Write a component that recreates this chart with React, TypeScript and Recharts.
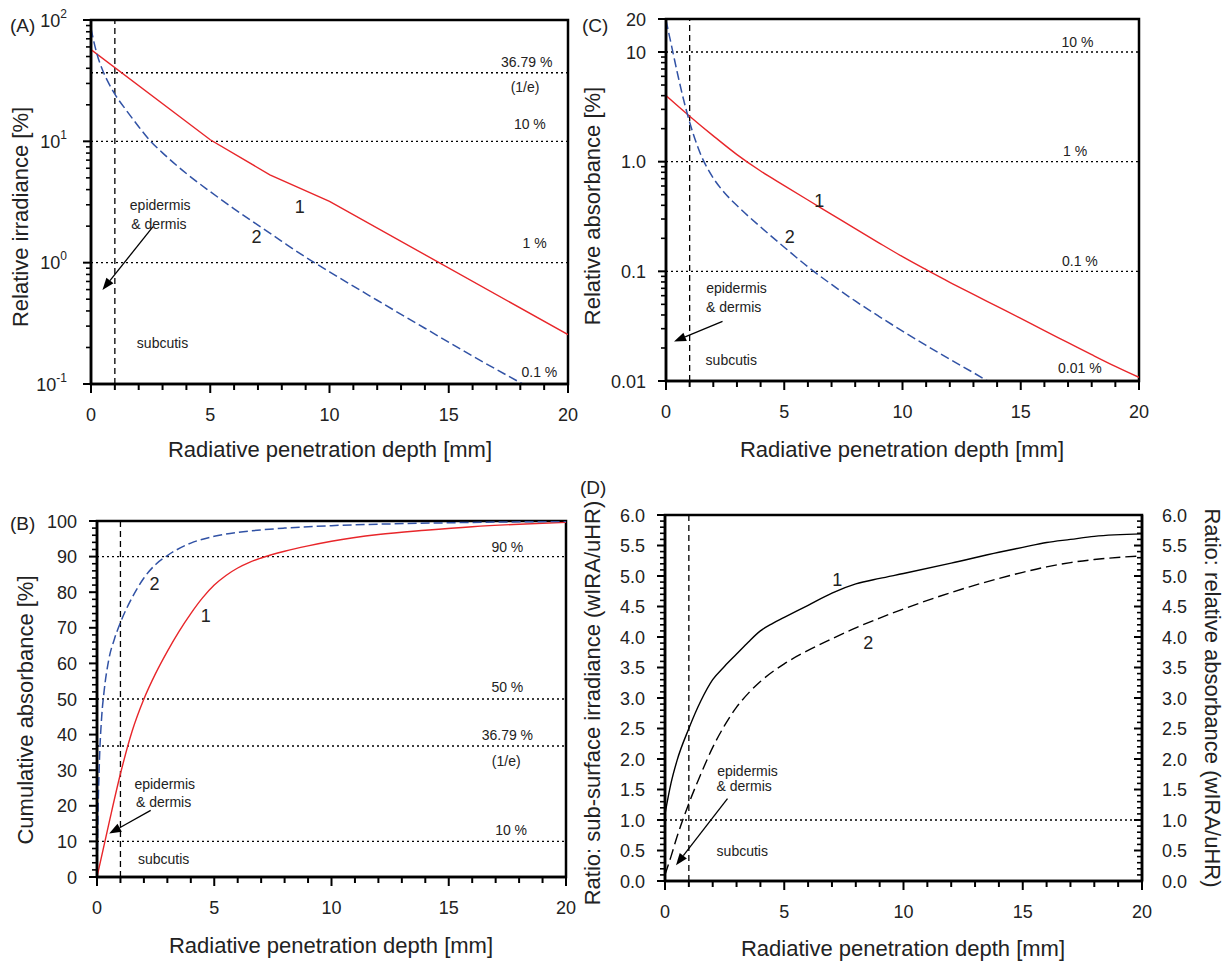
import React from 'react';
import { LineChart, Line, XAxis, YAxis, ReferenceLine, ReferenceDot, ReferenceArea } from 'recharts';

const FONT = '"Liberation Sans", Arial, Helvetica, sans-serif';
const RED = '#e8262a';
const BLUE = '#3152a5';
const INK = '#222';

// shared x axis (radiative penetration depth, mm)
const DEPTH_TICKS = [0, 1, 2, 3, 4, 5, 6, 7, 8, 9, 10, 11, 12, 13, 14, 15, 16, 17, 18, 19, 20];
const DEPTH_LABELS = [0, 5, 10, 15, 20];

// Panel A: relative irradiance [%] (log)
const A_RED_DEPTH = [0, 5, 7.5, 10, 20];
const A_RED_VAL = [57, 10.3, 5.3, 3.2, 0.255];
const A_BLUE_DEPTH = [0, 0.1, 0.25, 0.5, 0.75, 1, 1.5, 2, 2.5, 3, 4, 5, 6, 7, 8, 9, 10, 12, 14, 16, 18.1];
const A_BLUE_VAL = [85, 69, 52.5, 38, 29.9, 24.5, 17.8, 13.2, 10, 8.04, 5.43, 3.85, 2.78, 2.04, 1.5, 1.11, 0.84, 0.49, 0.288, 0.17, 0.1];
const A_Y_TICKS = [0.1, 0.2, 0.3, 0.4, 0.5, 0.6, 0.7, 0.8, 0.9, 1, 2, 3, 4, 5, 6, 7, 8, 9, 10, 20, 30, 40, 50, 60, 70, 80, 90, 100];
const A_Y_MAJOR = [0.1, 1, 10, 100];
const A_Y_EXP = ['-1', '0', '1', '2'];
const A_LEVELS = [36.79, 10, 1];

// Panel C: relative absorbance [%] (log)
const C_RED_DEPTH = [0, 0.5, 1, 2, 3, 4, 5, 6, 7, 8, 9, 10, 11, 12, 13, 14, 15, 16, 17, 18, 19, 20];
const C_RED_VAL = [4.0, 3.22, 2.6, 1.72, 1.16, 0.822, 0.605, 0.447, 0.331, 0.245, 0.182, 0.136, 0.1035, 0.0794, 0.0617, 0.0479, 0.0372, 0.0288, 0.0224, 0.0174, 0.0136, 0.0108];
const C_BLUE_DEPTH = [0, 0.15, 0.3, 0.5, 0.75, 1, 1.25, 1.5, 1.75, 2, 2.5, 3, 4, 5, 6, 7, 8, 9, 10, 11, 12, 13, 13.6];
const C_BLUE_VAL = [19.5, 13.8, 9.77, 6.17, 3.63, 2.29, 1.55, 1.12, 0.871, 0.708, 0.513, 0.398, 0.254, 0.166, 0.11, 0.0759, 0.0537, 0.0389, 0.0285, 0.0211, 0.0158, 0.0119, 0.01];
const C_Y_TICKS = [0.01, 0.02, 0.03, 0.04, 0.05, 0.06, 0.07, 0.08, 0.09, 0.1, 0.2, 0.3, 0.4, 0.5, 0.6, 0.7, 0.8, 0.9, 1, 2, 3, 4, 5, 6, 7, 8, 9, 10, 20];
const C_Y_MAJOR = [0.01, 0.1, 1, 10, 20];
const C_Y_LABELS = ['0.01', '0.1', '1.0', '10', '20'];
const C_LEVELS = [10, 1, 0.1];

// Panel B: cumulative absorbance [%]
const B_RED_DEPTH = [0, 0.5, 1, 1.5, 2, 2.5, 3, 3.5, 4, 4.5, 5, 5.5, 6, 6.5, 7, 8, 9, 10, 12, 14, 16, 18, 20];
const B_RED_VAL = [0, 14.8, 29, 41, 50, 57.2, 63.4, 69, 74, 78.4, 82, 84.7, 86.8, 88.4, 89.6, 91.5, 93, 94.3, 96.2, 97.4, 98.4, 99.1, 99.6];
const B_BLUE_DEPTH = [0, 0.05, 0.1, 0.2, 0.3, 0.5, 0.75, 1, 1.5, 2, 2.5, 3, 4, 5, 6, 7, 8, 10, 12, 15, 20];
const B_BLUE_VAL = [0, 20, 32, 45, 52, 61, 67, 71.5, 78.5, 84, 87.8, 90.3, 93.8, 95.7, 96.8, 97.5, 98, 98.7, 99.1, 99.5, 99.9];
const B_Y_TICKS = [0, 2, 4, 6, 8, 10, 12, 14, 16, 18, 20, 22, 24, 26, 28, 30, 32, 34, 36, 38, 40, 42, 44, 46, 48, 50, 52, 54, 56, 58, 60, 62, 64, 66, 68, 70, 72, 74, 76, 78, 80, 82, 84, 86, 88, 90, 92, 94, 96, 98, 100];
const B_Y_MAJOR = [0, 10, 20, 30, 40, 50, 60, 70, 80, 90, 100];
const B_LEVELS = [90, 50, 36.79, 10];

// Panel D: ratio wIRA/uHR
const D_SOLID_DEPTH = [0, 0.25, 0.5, 1, 1.5, 2, 2.5, 3, 3.5, 4, 4.5, 5, 6, 7, 8, 9, 10, 12, 14, 15, 16, 17, 18, 20];
const D_SOLID_VAL = [1.1, 1.6, 1.97, 2.5, 2.95, 3.3, 3.52, 3.72, 3.92, 4.1, 4.22, 4.32, 4.52, 4.72, 4.87, 4.96, 5.04, 5.21, 5.39, 5.47, 5.55, 5.6, 5.65, 5.69];
const D_DASH_DEPTH = [0, 0.25, 0.5, 1, 1.5, 2, 2.5, 3, 3.5, 4, 5, 6, 7, 8, 9, 10, 12, 14, 15, 16, 17, 18, 20];
const D_DASH_VAL = [0.1, 0.4, 0.72, 1.27, 1.75, 2.19, 2.55, 2.85, 3.08, 3.27, 3.56, 3.78, 3.97, 4.15, 4.31, 4.46, 4.73, 4.96, 5.06, 5.15, 5.22, 5.27, 5.33];
const D_Y_TICKS = Array.from({ length: 61 }, (_, i) => i / 10);
const D_Y_MAJOR = [0, 0.5, 1, 1.5, 2, 2.5, 3, 3.5, 4, 4.5, 5, 5.5, 6];
const D_LEVELS = [1];

const pts = (xs: number[], ys: number[]) => xs.map((x, i) => ({ x, y: ys[i] }));

const isIn = (arr: number[], v: number) => arr.some((m) => Math.abs(m - v) < 1e-9);

function XTick(props: any) {
  const { x, y, payload } = props;
  const v = payload.value;
  const major = isIn(DEPTH_LABELS, v);
  return (
    <g>
      <line x1={x} x2={x} y1={y} y2={y + (major ? 9 : 6)} stroke="#000" strokeWidth={2} />
      {major && (
        <text x={x} y={y + 37} textAnchor="middle" fontSize={18} fontFamily={FONT} fill={INK}>
          {v}
        </text>
      )}
    </g>
  );
}

function makeYTick(majors: number[], fmt: (v: number, i: number) => React.ReactNode, side: 'left' | 'right', gap = 20) {
  return (props: any) => {
    const { x, y, payload } = props;
    const v = payload.value;
    const idx = majors.findIndex((m) => Math.abs(m - v) < 1e-9);
    const major = idx >= 0;
    const len = major ? 8 : 5;
    return (
      <g>
        <line x1={x} x2={x - len} y1={y} y2={y} stroke="#000" strokeWidth={major ? 2 : 1.6} />
        {major && (
          <text
            x={side === 'left' ? x - gap : x + gap}
            y={y + 6.5}
            textAnchor={side === 'left' ? 'end' : 'start'}
            fontSize={18}
            fontFamily={FONT}
            fill={INK}
          >
            {fmt(v, idx)}
          </text>
        )}
      </g>
    );
  };
}

const ATick = makeYTick(A_Y_MAJOR, (_v, i) => (
  <>
    10<tspan dy={-9} fontSize={12}>{A_Y_EXP[i]}</tspan>
  </>
), 'left', 24);
const CTick = makeYTick(C_Y_MAJOR, (_v, i) => C_Y_LABELS[i], 'left');
const BTick = makeYTick(B_Y_MAJOR, (v) => String(v), 'left');
const DTickL = makeYTick(D_Y_MAJOR, (v) => v.toFixed(1), 'left');
const DTickR = makeYTick(D_Y_MAJOR, (v) => v.toFixed(1), 'right');

const note = (key: string, x: number, y: number, label: string, size = 14, yAxisId: any = 0) => (
  <ReferenceDot
    key={key}
    x={x}
    y={y}
    r={0}
    yAxisId={yAxisId}
    ifOverflow="visible"
    shape={(p: any) => (
      <text x={p.cx} y={p.cy} textAnchor="middle" dominantBaseline="central" fontSize={size} fontFamily={FONT} fill={INK}>
        {label}
      </text>
    )}
  />
);

const arrowShape = (p: any) => {
  const { x1, y1, x2, y2 } = p;
  const ang = Math.atan2(y2 - y1, x2 - x1);
  const L = 12;
  const W = 4.5;
  const bx = x2 - L * Math.cos(ang);
  const by = y2 - L * Math.sin(ang);
  const px = -Math.sin(ang) * W;
  const py = Math.cos(ang) * W;
  return (
    <g>
      <line x1={x1} y1={y1} x2={bx} y2={by} stroke="#000" strokeWidth={1.3} />
      <polygon points={`${x2},${y2} ${bx + px},${by + py} ${bx - px},${by - py}`} fill="#000" />
    </g>
  );
};

const arrow = (key: string, x1: number, y1: number, x2: number, y2: number, yAxisId: any = 0) => (
  <ReferenceLine key={key} yAxisId={yAxisId} ifOverflow="visible" segment={[{ x: x1, y: y1 }, { x: x2, y: y2 }]} shape={arrowShape} />
);

const levelLines = (levels: number[], yAxisId: any = 0) =>
  levels.map((v) => (
    <ReferenceLine key={'lv' + v} y={v} yAxisId={yAxisId} stroke="#000" strokeWidth={1.4} strokeDasharray="2 3" />
  ));

const axisLine = { stroke: '#000', strokeWidth: 2.5 };

function xAxis() {
  return (
    <XAxis
      dataKey="x"
      type="number"
      domain={[0, 20]}
      ticks={DEPTH_TICKS}
      interval={0}
      tickSize={0}
      tickMargin={0}
      tickLine={false}
      axisLine={axisLine}
      tick={<XTick />}
      height={40}
      allowDataOverflow
    />
  );
}

function PanelA() {
  return (
    <LineChart width={600} height={440} margin={{ top: 20, right: 32, bottom: 16, left: 21 }}>
      {xAxis()}
      <YAxis
        type="number"
        scale="log"
        domain={[0.1, 100]}
        ticks={A_Y_TICKS}
        interval={0}
        tickSize={0}
        tickMargin={0}
        tickLine={false}
        axisLine={axisLine}
        tick={ATick}
        width={70}
        allowDataOverflow
      />
      <ReferenceArea x1={0} x2={20} y1={0.1} y2={100} fill="none" stroke="#000" strokeWidth={2.5} ifOverflow="visible" />
      {levelLines(A_LEVELS)}
      <ReferenceLine x={1} stroke="#000" strokeWidth={1.3} strokeDasharray="6 4" />
      <Line data={pts(A_RED_DEPTH, A_RED_VAL)} dataKey="y" type="linear" stroke={RED} strokeWidth={1.4} dot={false} isAnimationActive={false} />
      <Line data={pts(A_BLUE_DEPTH, A_BLUE_VAL)} dataKey="y" type="monotone" stroke={BLUE} strokeWidth={1.5} strokeDasharray="9 4" dot={false} isAnimationActive={false} />
      {note('a1', 18.27, 45.4, '36.79 %')}
      {note('a2', 18.2, 28, '(1/e)')}
      {note('a3', 18.4, 14, '10 %')}
      {note('a4', 18.6, 1.44, '1 %')}
      {note('a5', 18.8, 0.126, '0.1 %')}
      {note('a6', 8.75, 2.9, '1', 18)}
      {note('a7', 6.94, 1.64, '2', 18)}
      {note('a8', 2.9, 2.99, 'epidermis')}
      {note('a9', 2.85, 2.08, '& dermis')}
      {note('a10', 3.0, 0.216, 'subcutis')}
      {arrow('aa', 2.6, 1.98, 0.48, 0.596)}
    </LineChart>
  );
}

function PanelC() {
  return (
    <LineChart width={600} height={440} margin={{ top: 19, right: 61, bottom: 19, left: 6 }}>
      {xAxis()}
      <YAxis
        type="number"
        scale="log"
        domain={[0.01, 20]}
        ticks={C_Y_TICKS}
        interval={0}
        tickSize={0}
        tickMargin={0}
        tickLine={false}
        axisLine={axisLine}
        tick={CTick}
        width={60}
        allowDataOverflow
      />
      <ReferenceArea x1={0} x2={20} y1={0.01} y2={20} fill="none" stroke="#000" strokeWidth={2.5} ifOverflow="visible" />
      {levelLines(C_LEVELS)}
      <ReferenceLine x={1} stroke="#000" strokeWidth={1.3} strokeDasharray="6 4" />
      <Line data={pts(C_RED_DEPTH, C_RED_VAL)} dataKey="y" type="monotone" stroke={RED} strokeWidth={1.4} dot={false} isAnimationActive={false} />
      <Line data={pts(C_BLUE_DEPTH, C_BLUE_VAL)} dataKey="y" type="monotone" stroke={BLUE} strokeWidth={1.5} strokeDasharray="9 4" dot={false} isAnimationActive={false} />
      {note('c1', 17.4, 12.3, '10 %')}
      {note('c2', 17.3, 1.24, '1 %')}
      {note('c3', 17.5, 0.125, '0.1 %')}
      {note('c4', 17.5, 0.0132, '0.01 %')}
      {note('c5', 6.48, 0.44, '1', 18)}
      {note('c6', 5.23, 0.204, '2', 18)}
      {note('c7', 2.98, 0.0705, 'epidermis')}
      {note('c8', 2.86, 0.047, '& dermis')}
      {note('c9', 2.76, 0.0155, 'subcutis')}
      {arrow('ca', 2.39, 0.035, 0.34, 0.0229)}
    </LineChart>
  );
}

function PanelB() {
  return (
    <LineChart width={600} height={470} margin={{ top: 61, right: 34, bottom: 13, left: 27 }}>
      {xAxis()}
      <YAxis
        type="number"
        domain={[0, 100]}
        ticks={B_Y_TICKS}
        interval={0}
        tickSize={0}
        tickMargin={0}
        tickLine={false}
        axisLine={axisLine}
        tick={BTick}
        width={70}
        allowDataOverflow
      />
      <ReferenceArea x1={0} x2={20} y1={0} y2={100} fill="none" stroke="#000" strokeWidth={2.5} ifOverflow="visible" />
      {levelLines(B_LEVELS)}
      <ReferenceLine x={1} stroke="#000" strokeWidth={1.3} strokeDasharray="6 4" />
      <Line data={pts(B_RED_DEPTH, B_RED_VAL)} dataKey="y" type="monotone" stroke={RED} strokeWidth={1.4} dot={false} isAnimationActive={false} />
      <Line data={pts(B_BLUE_DEPTH, B_BLUE_VAL)} dataKey="y" type="monotone" stroke={BLUE} strokeWidth={1.5} strokeDasharray="9 4" dot={false} isAnimationActive={false} />
      {note('b1', 17.5, 92.8, '90 %')}
      {note('b2', 17.5, 53.5, '50 %')}
      {note('b3', 17.5, 39.9, '36.79 %')}
      {note('b4', 17.45, 32.5, '(1/e)')}
      {note('b5', 17.66, 13.3, '10 %')}
      {note('b6', 2.45, 82.2, '2', 18)}
      {note('b7', 4.64, 73.2, '1', 18)}
      {note('b8', 2.89, 26.2, 'epidermis')}
      {note('b9', 2.84, 21.2, '& dermis')}
      {note('b10', 2.84, 5.1, 'subcutis')}
      {arrow('ba', 2.29, 18.7, 0.52, 12.2)}
    </LineChart>
  );
}

function PanelD() {
  return (
    <LineChart width={631} height={470} margin={{ top: 55, right: 29, bottom: 9, left: 5 }}>
      {xAxis()}
      <YAxis
        yAxisId="L"
        type="number"
        domain={[0, 6]}
        ticks={D_Y_TICKS}
        interval={0}
        tickSize={0}
        tickMargin={0}
        tickLine={false}
        axisLine={axisLine}
        tick={DTickL}
        width={60}
        allowDataOverflow
      />
      <YAxis
        yAxisId="R"
        orientation="right"
        type="number"
        domain={[0, 6]}
        ticks={D_Y_TICKS}
        interval={0}
        tickSize={0}
        tickMargin={0}
        tickLine={false}
        axisLine={axisLine}
        tick={DTickR}
        width={60}
        allowDataOverflow
      />
      <ReferenceArea yAxisId="L" x1={0} x2={20} y1={0} y2={6} fill="none" stroke="#000" strokeWidth={2.5} ifOverflow="visible" />
      {levelLines(D_LEVELS, 'L')}
      <ReferenceLine yAxisId="L" x={1} stroke="#000" strokeWidth={1.3} strokeDasharray="6 4" />
      <Line yAxisId="L" data={pts(D_SOLID_DEPTH, D_SOLID_VAL)} dataKey="y" type="monotone" stroke="#000" strokeWidth={1.4} dot={false} isAnimationActive={false} />
      <Line yAxisId="L" data={pts(D_DASH_DEPTH, D_DASH_VAL)} dataKey="y" type="monotone" stroke="#000" strokeWidth={1.4} strokeDasharray="11 5" dot={false} isAnimationActive={false} />
      {note('d1', 7.22, 4.93, '1', 18, 'L')}
      {note('d2', 8.52, 3.9, '2', 18, 'L')}
      {note('d3', 3.46, 1.8, 'epidermis', 14, 'L')}
      {note('d4', 3.32, 1.55, '& dermis', 14, 'L')}
      {note('d5', 3.24, 0.5, 'subcutis', 14, 'L')}
      {arrow('da', 2.62, 1.35, 0.46, 0.26, 'L')}
    </LineChart>
  );
}

const TITLE = 22;

export default function App() {
  const t = (x: number, y: number, s: string, rot = 0, size = TITLE, anchor: any = 'middle') => (
    <text
      x={x}
      y={y}
      textAnchor={anchor}
      fontSize={size}
      fontFamily={FONT}
      fill={INK}
      transform={rot ? `rotate(${rot} ${x} ${y})` : undefined}
    >
      {s}
    </text>
  );
  return (
    <div style={{ position: 'absolute', left: 0, top: 0, width: 1231, height: 966, background: '#fff', overflow: 'hidden' }}>
      <div style={{ position: 'absolute', left: 0, top: 0 }}>
        <PanelA />
      </div>
      <div style={{ position: 'absolute', left: 600, top: 0 }}>
        <PanelC />
      </div>
      <div style={{ position: 'absolute', left: 0, top: 460 }}>
        <PanelB />
      </div>
      <div style={{ position: 'absolute', left: 600, top: 460 }}>
        <PanelD />
      </div>
      <svg width={1231} height={966} style={{ position: 'absolute', left: 0, top: 0, pointerEvents: 'none' }}>
        {t(10, 32, '(A)', 0, 19, 'start')}
        {t(582, 32, '(C)', 0, 19, 'start')}
        {t(10, 530, '(B)', 0, 19, 'start')}
        {t(580, 494, '(D)', 0, 19, 'start')}
        {t(28, 217, 'Relative irradiance [%]', -90)}
        {t(600, 206, 'Relative absorbance [%]', -90)}
        {t(33, 710, 'Cumulative absorbance [%]', -90)}
        {t(600, 703, 'Ratio: sub-surface irradiance (wIRA/uHR)', -90)}
        {t(1205, 698, 'Ratio: relative absorbance (wIRA/uHR)', 90)}
        {t(330, 457, 'Radiative penetration depth [mm]')}
        {t(902, 457, 'Radiative penetration depth [mm]')}
        {t(331, 953, 'Radiative penetration depth [mm]')}
        {t(903, 956, 'Radiative penetration depth [mm]')}
      </svg>
    </div>
  );
}
